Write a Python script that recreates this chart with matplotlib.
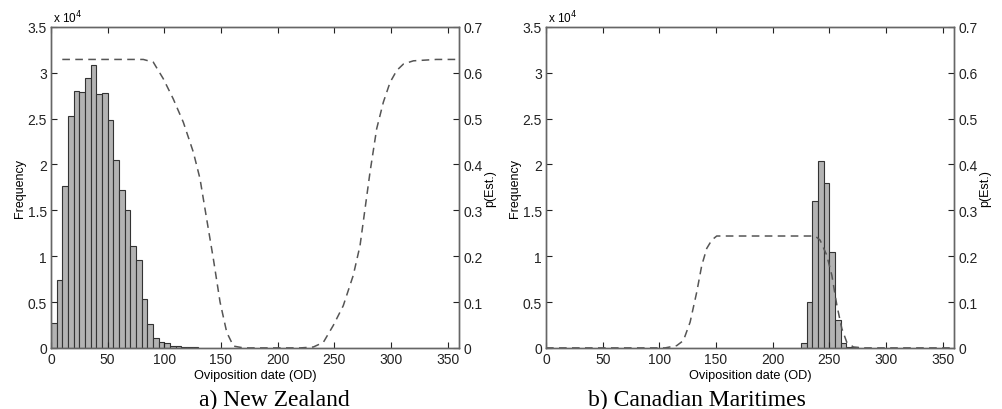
import numpy as np
import matplotlib.pyplot as plt
import matplotlib
from matplotlib.ticker import FuncFormatter

matplotlib.rcParams['font.family'] = ['Liberation Sans', 'DejaVu Sans']

# histogram bins (left edges, width 5 days) and counts
nz_edges = np.arange(0, 130, 5)
nz_counts = [2700, 7400, 17600, 25300, 28000, 27900, 29400, 30800, 27700, 27800,
             24900, 20500, 17200, 15000, 11100, 9600, 5300, 2600, 1100, 600,
             500, 250, 200, 100, 50, 50]

cm_edges = np.arange(225, 275, 5)
cm_counts = [500, 5000, 16000, 20400, 18000, 10500, 3000, 500, 100, 50]

# estimated establishment probability curves
nz_px = [10, 60, 70, 81.5, 90.3, 99.1, 107.9, 116.8, 125.6, 131.5, 137.4, 143.3,
         149.2, 155.1, 161, 170, 200, 220, 231.5, 240.3, 249.1, 257.9, 266.7,
         272.7, 277.1, 281.5, 287.4, 293.3, 299.2, 305.1, 311, 319.8, 340, 358]
nz_p = [0.629, 0.629, 0.629, 0.629, 0.623, 0.587, 0.543, 0.492, 0.427, 0.369,
        0.281, 0.194, 0.100, 0.034, 0.004, 0.0, 0.0, 0.0, 0.002, 0.012, 0.049,
        0.092, 0.158, 0.223, 0.303, 0.383, 0.478, 0.536, 0.579, 0.605, 0.619,
        0.626, 0.629, 0.629]

cm_px = [0, 50, 105, 115.3, 121.2, 127.1, 133, 137.4, 141.8, 146.2, 150.6, 200,
         237.4, 241.8, 247.7, 252.2, 256.6, 261, 265.4, 271.2, 280, 300, 360]
cm_p = [0.0, 0.0, 0.0, 0.005, 0.016, 0.056, 0.122, 0.18, 0.217, 0.235, 0.244,
        0.244, 0.244, 0.235, 0.202, 0.158, 0.093, 0.042, 0.012, 0.002, 0.0, 0.0,
        0.0]

captions = ['a) New Zealand', 'b) Canadian Maritimes']
caption_x = [0.2732, 0.6949]

fig = plt.figure(figsize=(10.03, 4.10), dpi=100)

panels = [(nz_edges, nz_counts, nz_px, nz_p), (cm_edges, cm_counts, cm_px, cm_p)]
lefts = [0.0508, 0.5444]

for i, (edges, counts, px, p) in enumerate(panels):
    ax = fig.add_axes([lefts[i], 0.149, 0.4068, 0.783])
    ax.bar(edges, counts, width=5, align='edge', color='#b3b3b3',
           edgecolor='#333333', linewidth=0.8)
    ax.set_xlim(0, 360)
    ax.set_ylim(0, 35000)
    ax.set_xticks(np.arange(0, 351, 50))
    ax.set_yticks(np.arange(0, 35001, 5000))
    ax.yaxis.set_major_formatter(FuncFormatter(lambda v, pos: '%g' % (v / 1e4)))
    ax.tick_params(direction='in', top=True, length=4, labelsize=10, width=0.8,
                   pad=3, colors='#222222')
    ax.set_ylabel('Frequency', fontsize=9, labelpad=1)
    ax.set_xlabel('Oviposition date (OD)', fontsize=9.2, labelpad=2)
    ax.text(0.005, 1.005, r'x 10$^4$', transform=ax.transAxes, fontsize=8.5,
            ha='left', va='bottom')
    for s in ax.spines.values():
        s.set_color('#666666')
        s.set_linewidth(1.0)

    ax2 = ax.twinx()
    ax2.plot(px, p, linestyle='--', color='#555555', linewidth=1.1, dashes=(5, 3.5))
    ax2.set_ylim(0, 0.7)
    ax2.set_yticks(np.arange(0, 0.71, 0.1))
    ax2.yaxis.set_major_formatter(FuncFormatter(lambda v, pos: '%g' % round(v, 1)))
    ax2.tick_params(direction='in', length=4, labelsize=10, width=0.8, pad=3,
                    colors='#222222')
    ax2.set_ylabel('p(Est.)', fontsize=9, labelpad=1)
    for s in ax2.spines.values():
        s.set_color('#666666')
        s.set_linewidth(1.0)

    fig.text(caption_x[i], 0.01, captions[i], ha='center', va='baseline',
             fontsize=17, family=['Liberation Serif', 'DejaVu Serif'])

fig.savefig('out.png', dpi=100)
